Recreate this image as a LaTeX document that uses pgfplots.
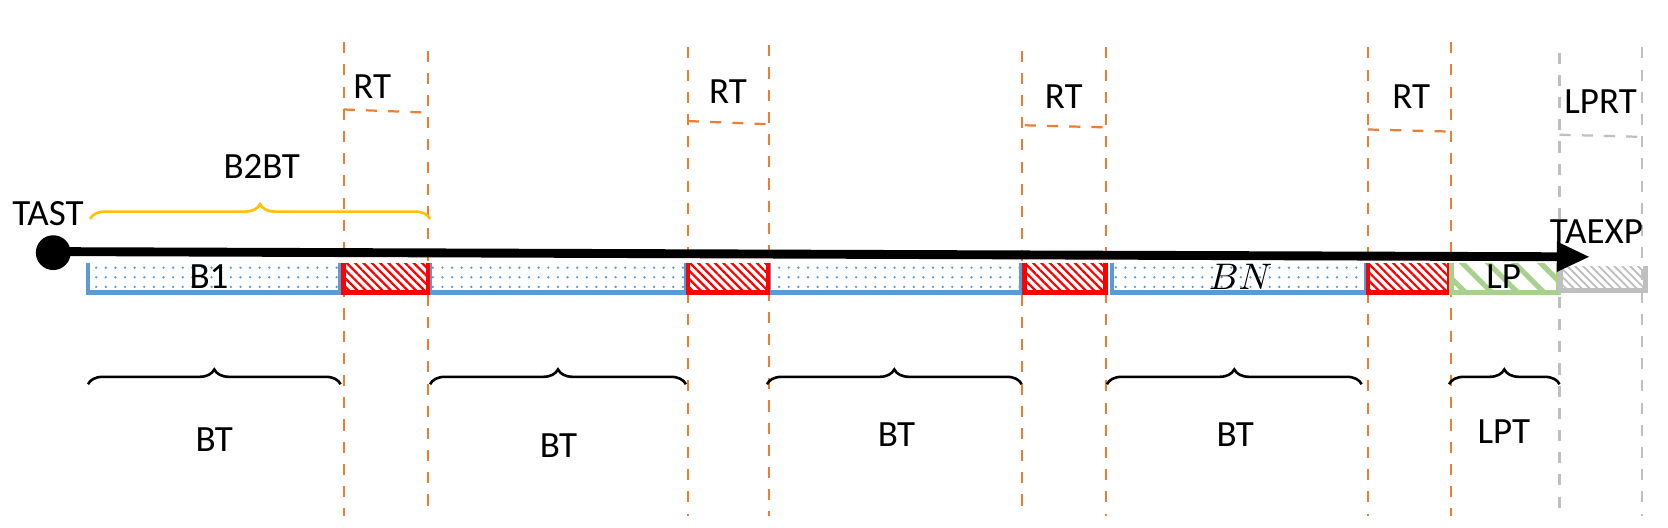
\documentclass[border=0pt]{standalone}
\usepackage{pgfplots}
\pgfplotsset{compat=1.18}
\usepackage{fontspec}
\setmainfont{Carlito}
\usetikzlibrary{patterns,patterns.meta,decorations.pathreplacing,arrows.meta}
\definecolor{orng}{HTML}{ED7D31}
\definecolor{blu}{HTML}{5B9BD5}
\definecolor{rd}{HTML}{FF0000}
\definecolor{grn}{HTML}{A9D18E}
\definecolor{gry}{HTML}{BFBFBF}
\definecolor{ylw}{HTML}{FFC000}
\begin{document}
\begin{tikzpicture}
\begin{axis}[width=15.66cm,height=5.01cm,scale only axis,xmin=0,xmax=1566,ymin=0,ymax=501,
 y dir=reverse,axis lines=none,ticks=none,clip=false,
 every node/.style={font=\fontsize{9.5}{11}\selectfont}]
\path (rel axis cs:0,0) rectangle (rel axis cs:1,1);
% vertical dashed lines
\foreach \x/\a in {308/40,388/48,635/45,712/43,952/48,1032/45,1281/45,1360/40}{
 \edef\tmp{\noexpand\addplot[orng,dashed,line width=0.6pt] coordinates {(\x,\a)(\x,490)};}\tmp}
\addplot[gry,dashed,line width=0.6pt] coordinates {(1463,50)(1463,490)};
\addplot[gry,dashed,line width=0.6pt] coordinates {(1541,45)(1541,490)};
% RT horizontals
\addplot[orng,dashed,line width=0.6pt] coordinates {(308,104)(388,107)};
\addplot[orng,dashed,line width=0.6pt] coordinates {(635,115)(712,118)};
\addplot[orng,dashed,line width=0.6pt] coordinates {(955,119)(1032,121)};
\addplot[orng,dashed,line width=0.6pt] coordinates {(1281,123)(1360,125)};
\addplot[gry,dashed,line width=0.6pt] coordinates {(1463,128)(1541,130)};
% bars
\foreach \a/\b in {65/305,390/633,712/952,1038/1279}{
 \edef\tmp{\noexpand\addplot[draw=none,pattern={Dots[distance=2.6pt,radius=0.35pt]},pattern color=blu] coordinates {(\a,250)(\b,250)(\b,278)(\a,278)} -- cycle;
 \noexpand\addplot[blu,line width=1.2pt] coordinates {(\a,250)(\a,278)(\b,278)(\b,250)};}\tmp}
\foreach \a/\b in {308/388,635/711,955/1032,1281/1358}{
 \edef\tmp{\noexpand\addplot[draw=none,pattern={Lines[angle=-45,distance=1.6pt,line width=0.6pt]},pattern color=rd] coordinates {(\a,250)(\b,250)(\b,278)(\a,278)} -- cycle;
 \noexpand\addplot[rd,line width=1.3pt] coordinates {(\a,250)(\a,278)(\b,278)(\b,250)};}\tmp}
\addplot[draw=none,pattern={Lines[angle=-45,distance=5pt,line width=1.4pt]},pattern color=grn] coordinates {(1360,250)(1462,250)(1462,278)(1360,278)} -- cycle;
\addplot[grn,line width=1.3pt] coordinates {(1360,250)(1360,278)(1462,278)(1462,250)};
\addplot[draw=none,pattern={Lines[angle=-45,distance=1.5pt,line width=0.5pt]},pattern color=gry] coordinates {(1464,253)(1545,253)(1545,276)(1464,276)} -- cycle;
\addplot[gry,line width=1.3pt] coordinates {(1464,253)(1464,276)(1545,276)(1545,253)};
% main arrow
\addplot[black,line width=2.4pt,-{Triangle[length=9pt,width=7.5pt]}] coordinates {(32,239)(1492,244)};
\addplot[only marks,mark=*,mark size=4.5pt,black] coordinates {(32,240)};
% braces
\addplot[ylw,line width=0.7pt,decorate,decoration={brace,amplitude=4pt}] coordinates {(67,208)(390,208)};
\foreach \a/\b in {305/65,633/390,952/710,1275/1033,1463/1358}{
 \edef\tmp{\noexpand\addplot[black,line width=0.7pt,decorate,decoration={brace,amplitude=4pt}] coordinates {(\b,365)(\a,365)};}\tmp}
% labels
\node at (axis cs:335,82) {RT};
\node at (axis cs:673,87) {RT};
\node at (axis cs:992,92) {RT};
\node at (axis cs:1322,92) {RT};
\node at (axis cs:1502,97) {LPRT};
\node at (axis cs:230,158) {B2BT};
\node at (axis cs:27,203) {TAST};
\node at (axis cs:1498,220) {TAEXP};
\node at (axis cs:180,263) {B1};
\node at (axis cs:1160,263) {$BN$};
\node at (axis cs:1410,263) {LP};
\node at (axis cs:185,418) {BT};
\node at (axis cs:512,423) {BT};
\node at (axis cs:833,413) {BT};
\node at (axis cs:1155,413) {BT};
\node at (axis cs:1410,410) {LPT};
\end{axis}
\end{tikzpicture}
\end{document}
